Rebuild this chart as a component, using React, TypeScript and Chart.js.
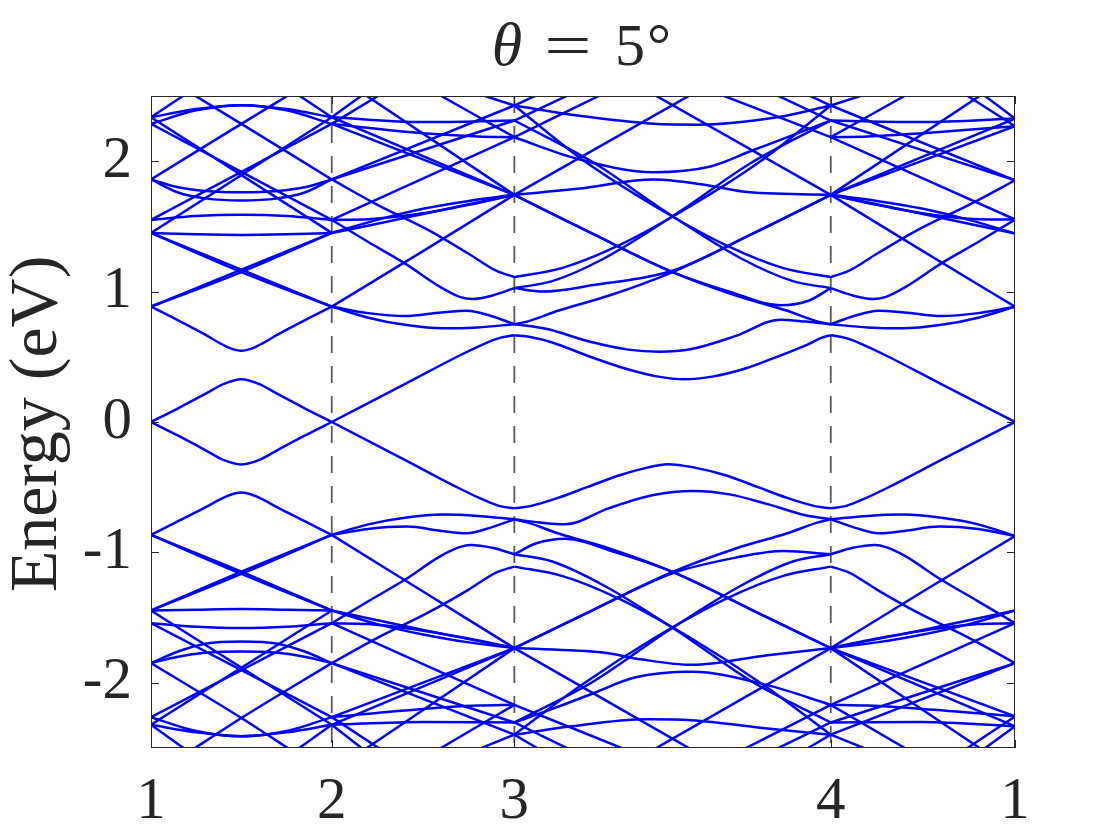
import React, { useEffect, useRef } from 'react';
import { Chart, registerables } from 'chart.js';

Chart.register(...registerables);

// Path nodes (k-distance along the path) and their labels
const NODE_POS = [0, 0.99, 1.99, 3.723, 4.732];
const NODE_LABELS = ['1', '2', '3', '4', '1'];
const Y_TICKS = [-2, -1, 0, 1, 2];

// Bands: each is a list of [t, E] where t = path parameter (integer = node), E in eV
const SEG0_UP: number[][][] = [
  [[0, 0], [0.15, 0.105], [0.3, 0.215], [0.4, 0.29], [0.5, 0.327], [0.6, 0.29], [0.7, 0.215], [0.85, 0.105], [1, 0]],
  [[0, 0.885], [0.15, 0.78], [0.3, 0.67], [0.38, 0.605], [0.44, 0.565], [0.5, 0.547], [0.56, 0.565], [0.62, 0.605], [0.7, 0.67], [0.85, 0.78], [1, 0.885]],
  [[0, 0.885], [0.5, 1.15], [1, 1.45]],
  [[0, 0.885], [0.5, 1.168], [1, 1.45]],
  [[0, 1.45], [0.5, 1.15], [1, 0.885]],
  [[0, 1.45], [0.5, 1.168], [1, 0.885]],
  [[0, 1.55], [0.25, 1.58], [0.5, 1.589], [0.75, 1.58], [1, 1.55]],
  [[0, 1.45], [0.25, 1.44], [0.5, 1.435], [0.75, 1.44], [1, 1.45]],
  [[0, 1.86], [0.15, 1.8], [0.3, 1.772], [0.5, 1.762], [0.7, 1.772], [0.85, 1.8], [1, 1.86]],
  [[0, 1.86], [0.15, 1.76], [0.3, 1.715], [0.5, 1.699], [0.7, 1.715], [0.85, 1.76], [1, 1.86]],
  [[0, 1.55], [1, 2.286]],
  [[0, 2.286], [1, 1.55]],
  [[0, 2.337], [1, 1.45]],
  [[0, 1.45], [1, 2.337]],
  [[0, 1.86], [0.5, 2.286], [0.8, 2.54]],
  [[0.2, 2.54], [0.5, 2.286], [1, 1.86]],
  [[0, 2.286], [0.25, 2.39], [0.5, 2.43], [0.75, 2.4], [1, 2.337]],
  [[0, 2.337], [0.25, 2.4], [0.5, 2.43], [0.75, 2.39], [1, 2.286]],
  [[0, 2.337], [0.22, 2.54]],
  [[0.78, 2.54], [1, 2.337]],
];

const SEG0_LO: number[][][] = [
  [[0, 0], [0.15, -0.105], [0.3, -0.215], [0.4, -0.29], [0.5, -0.325], [0.6, -0.29], [0.7, -0.215], [0.85, -0.105], [1, 0]],
  [[0, -0.866], [0.15, -0.76], [0.3, -0.655], [0.38, -0.595], [0.44, -0.558], [0.5, -0.54], [0.56, -0.558], [0.62, -0.595], [0.7, -0.655], [0.85, -0.76], [1, -0.866]],
  [[0, -0.866], [0.5, -1.147], [1, -1.446]],
  [[0, -0.866], [0.5, -1.165], [1, -1.446]],
  [[0, -1.446], [0.5, -1.147], [1, -0.866]],
  [[0, -1.446], [0.5, -1.165], [1, -0.866]],
  [[0, -1.543], [0.25, -1.57], [0.5, -1.58], [0.75, -1.57], [1, -1.543]],
  [[0, -1.446], [0.25, -1.44], [0.5, -1.435], [0.75, -1.44], [1, -1.446]],
  [[0, -1.849], [0.15, -1.76], [0.3, -1.7], [0.5, -1.683], [0.7, -1.7], [0.85, -1.76], [1, -1.849]],
  [[0, -1.849], [0.15, -1.8], [0.3, -1.77], [0.5, -1.76], [0.7, -1.77], [0.85, -1.8], [1, -1.849]],
  [[0, -1.543], [1, -2.263]],
  [[0, -2.263], [1, -1.543]],
  [[0, -2.322], [1, -1.446]],
  [[0, -1.446], [1, -2.322]],
  [[0, -1.849], [0.5, -2.27], [0.8, -2.54]],
  [[0.2, -2.54], [0.5, -2.27], [1, -1.849]],
  [[0, -2.263], [0.25, -2.37], [0.5, -2.41], [0.75, -2.38], [1, -2.322]],
  [[0, -2.322], [0.25, -2.38], [0.5, -2.41], [0.75, -2.37], [1, -2.263]],
  [[0, -2.322], [0.22, -2.54]],
  [[0.78, -2.54], [1, -2.322]],
];

const SEG1_UP: number[][][] = [
  [[1, 0], [1.4, 0.29], [1.7, 0.51], [1.82, 0.59], [1.92, 0.645], [2, 0.665]],
  [[1, 0.885], [1.5, 1.31], [2, 1.742]],
  [[1, 1.45], [1.25, 1.52], [1.5, 1.595], [1.75, 1.67], [2, 1.742]],
  [[1, 1.45], [1.25, 1.55], [1.5, 1.635], [1.75, 1.695], [2, 1.742]],
  [[1, 1.55], [1.2, 1.555], [1.5, 1.6], [1.75, 1.665], [2, 1.742]],
  [[1, 1.55], [2, 2.184]],
  [[1, 1.86], [2, 2.312]],
  [[1, 1.86], [2, 2.427]],
  [[1, 2.286], [2, 1.742]],
  [[1, 2.337], [2, 1.742]],
  [[1.15, 2.54], [2, 1.742]],
  [[1, 1.86], [1.25, 1.665], [1.53, 1.471], [1.75, 1.29], [1.9, 1.16], [2, 1.111]],
  [[1, 1.55], [1.2, 1.38], [1.4, 1.216], [1.6, 1.03], [1.7, 0.96], [1.77, 0.943], [1.88, 0.97], [2, 1.027]],
  [[1, 0.885], [1.2, 0.835], [1.4, 0.812], [1.6, 0.84], [1.74, 0.853], [1.87, 0.815], [2, 0.75]],
  [[1, 0.885], [1.2, 0.8], [1.4, 0.745], [1.61, 0.718], [1.8, 0.725], [2, 0.75]],
  [[1, 2.337], [1.5, 2.3], [2, 2.312]],
  [[1, 2.286], [1.5, 2.215], [1.8, 2.19], [2, 2.184]],
  [[1, 2.337], [1.2, 2.54]],
  [[1, 2.286], [1.3, 2.54]],
  [[1.55, 2.54], [2, 2.184]],
  [[1.75, 2.54], [2, 2.427]],
];

const SEG1_LO: number[][][] = [
  [[1, 0], [1.4, -0.29], [1.7, -0.51], [1.82, -0.59], [1.92, -0.645], [2, -0.662]],
  [[1, -0.866], [1.5, -1.3], [2, -1.734]],
  [[1, -1.446], [1.25, -1.52], [1.5, -1.595], [1.75, -1.665], [2, -1.734]],
  [[1, -1.446], [1.25, -1.55], [1.5, -1.63], [1.75, -1.69], [2, -1.734]],
  [[1, -1.543], [1.2, -1.55], [1.5, -1.6], [1.75, -1.66], [2, -1.734]],
  [[1, -1.543], [2, -2.169]],
  [[1, -1.849], [2, -2.304]],
  [[1, -1.849], [2, -2.398]],
  [[1, -2.263], [2, -1.734]],
  [[1, -2.322], [2, -1.734]],
  [[1.15, -2.54], [2, -1.734]],
  [[1, -1.849], [1.25, -1.655], [1.53, -1.46], [1.75, -1.285], [1.9, -1.155], [2, -1.109]],
  [[1, -1.543], [1.2, -1.375], [1.4, -1.21], [1.6, -1.025], [1.7, -0.96], [1.76, -0.943], [1.88, -0.965], [2, -1.014]],
  [[1, -0.866], [1.2, -0.82], [1.41, -0.802], [1.6, -0.835], [1.74, -0.853], [1.87, -0.81], [2, -0.746]],
  [[1, -0.866], [1.2, -0.785], [1.4, -0.735], [1.61, -0.71], [1.8, -0.72], [2, -0.746]],
  [[1, -2.322], [1.5, -2.3], [2, -2.304]],
  [[1, -2.263], [1.5, -2.2], [1.8, -2.175], [2, -2.169]],
  [[1, -2.322], [1.2, -2.54]],
  [[1, -2.263], [1.3, -2.54]],
  [[1.55, -2.54], [2, -2.169]],
  [[1.75, -2.54], [2, -2.398]],
];

const SEG2_UP: number[][][] = [
  [[2, 0.665], [2.05, 0.652], [2.12, 0.61], [2.24, 0.5], [2.35, 0.41], [2.45, 0.35], [2.537, 0.327], [2.63, 0.35], [2.73, 0.41], [2.83, 0.5], [2.93, 0.598], [2.97, 0.645], [3, 0.665]],
  [[2, 0.75], [2.1, 0.715], [2.24, 0.615], [2.36, 0.555], [2.457, 0.539], [2.56, 0.56], [2.7, 0.66], [2.84, 0.785], [2.92, 0.77], [3, 0.75]],
  [[2, 1.742], [2.2, 1.788], [2.44, 1.86], [2.6, 1.82], [2.72, 1.768], [3, 1.742]],
  [[2, 2.184], [2.2, 2.018], [2.44, 1.916], [2.62, 1.96], [2.75, 2.08], [2.88, 2.2], [3, 2.312]],
  [[2, 2.427], [2.2, 2.35], [2.44, 2.287], [2.58, 2.28], [2.83, 2.337], [3, 2.427]],
  [[2, 1.742], [2.58, 2.54]],
  [[2.42, 2.54], [3, 1.742]],
  [[2, 1.111], [2.15, 1.18], [2.33, 1.354], [2.56, 1.66], [2.79, 2.02], [3, 2.427]],
  [[2, 2.427], [2.21, 2.02], [2.44, 1.66], [2.67, 1.354], [2.85, 1.18], [3, 1.111]],
  [[2, 1.027], [2.12, 1.08], [2.28, 1.25], [2.52, 1.61], [2.75, 1.99], [3, 2.312]],
  [[2, 2.312], [2.25, 1.99], [2.48, 1.61], [2.72, 1.25], [2.88, 1.08], [3, 1.027]],
  [[2, 1.742], [2.25, 1.44], [2.5, 1.15], [2.7, 0.97], [2.86, 0.855], [2.96, 0.77], [3, 0.75]],
  [[2, 1.742], [2.25, 1.44], [2.5, 1.15], [2.68, 1.0], [2.84, 0.895], [2.93, 0.93], [3, 1.027]],
  [[2, 0.75], [2.04, 0.77], [2.14, 0.855], [2.3, 0.97], [2.5, 1.15], [2.75, 1.44], [3, 1.742]],
  [[2, 1.027], [2.09, 1.0], [2.25, 1.05], [2.5, 1.16], [2.75, 1.44], [3, 1.742]],
  [[2, 2.184], [2.3, 2.54]],
  [[2.62, 2.54], [3, 2.184]],
  [[2, 2.312], [2.2, 2.54]],
  [[2.8, 2.54], [3, 2.312]],
  [[2, 2.427], [2.1, 2.54]],
  [[2.9, 2.54], [3, 2.427]],
];

const SEG2_LO: number[][][] = [
  [[2, -0.662], [2.05, -0.645], [2.14, -0.58], [2.23, -0.5], [2.33, -0.41], [2.42, -0.35], [2.484, -0.324], [2.57, -0.35], [2.67, -0.41], [2.77, -0.5], [2.86, -0.58], [2.95, -0.645], [3, -0.662]],
  [[2, -0.746], [2.08, -0.77], [2.16, -0.785], [2.3, -0.66], [2.44, -0.56], [2.564, -0.529], [2.68, -0.555], [2.8, -0.63], [2.92, -0.715], [3, -0.746]],
  [[2, -1.734], [2.28, -1.768], [2.4, -1.82], [2.56, -1.862], [2.8, -1.788], [3, -1.734]],
  [[2, -2.304], [2.12, -2.2], [2.25, -2.08], [2.38, -1.96], [2.56, -1.916], [2.8, -2.018], [3, -2.169]],
  [[2, -2.398], [2.17, -2.337], [2.42, -2.28], [2.56, -2.287], [2.8, -2.35], [3, -2.398]],
  [[2.42, -2.54], [3, -1.734]],
  [[2, -1.734], [2.58, -2.54]],
  [[2, -1.109], [2.15, -1.18], [2.33, -1.354], [2.56, -1.66], [2.79, -2.02], [3, -2.398]],
  [[2, -2.398], [2.21, -2.02], [2.44, -1.66], [2.67, -1.354], [2.85, -1.18], [3, -1.109]],
  [[2, -1.014], [2.12, -1.07], [2.28, -1.25], [2.52, -1.61], [2.75, -1.99], [3, -2.304]],
  [[2, -2.304], [2.25, -1.99], [2.48, -1.61], [2.72, -1.25], [2.88, -1.07], [3, -1.014]],
  [[2, -1.734], [2.25, -1.44], [2.5, -1.15], [2.7, -0.97], [2.86, -0.855], [2.96, -0.77], [3, -0.746]],
  [[2, -1.734], [2.25, -1.44], [2.5, -1.16], [2.7, -1.04], [2.85, -0.99], [3, -1.014]],
  [[2, -0.746], [2.04, -0.77], [2.14, -0.855], [2.3, -0.97], [2.5, -1.15], [2.75, -1.44], [3, -1.734]],
  [[2, -1.014], [2.07, -0.93], [2.16, -0.895], [2.32, -1.0], [2.5, -1.15], [2.75, -1.44], [3, -1.734]],
  [[2.7, -2.54], [3, -2.169]],
  [[2, -2.169], [2.38, -2.54]],
  [[2.8, -2.54], [3, -2.304]],
  [[2, -2.304], [2.2, -2.54]],
  [[2, -2.398], [2.1, -2.54]],
  [[2.9, -2.54], [3, -2.398]],
];

const SEG3_UP: number[][][] = [
  [[3, 0.665], [3.08, 0.645], [3.18, 0.59], [3.3, 0.51], [3.6, 0.29], [4, 0]],
  [[3, 1.742], [3.5, 1.31], [4, 0.884]],
  [[3, 1.742], [3.25, 1.67], [3.5, 1.595], [3.75, 1.52], [4, 1.446]],
  [[3, 1.742], [3.25, 1.695], [3.5, 1.635], [3.75, 1.55], [4, 1.446]],
  [[3, 1.742], [3.25, 1.665], [3.5, 1.6], [3.8, 1.555], [4, 1.553]],
  [[3, 2.184], [4, 1.553]],
  [[3, 2.312], [4, 1.854]],
  [[3, 2.427], [4, 1.854]],
  [[3, 1.742], [4, 2.268]],
  [[3, 1.742], [4, 2.327]],
  [[3, 1.742], [3.85, 2.54]],
  [[3, 1.111], [3.1, 1.16], [3.25, 1.29], [3.47, 1.471], [3.75, 1.665], [4, 1.854]],
  [[3, 1.027], [3.12, 0.97], [3.23, 0.943], [3.3, 0.96], [3.4, 1.03], [3.6, 1.216], [3.8, 1.38], [4, 1.553]],
  [[3, 0.75], [3.13, 0.815], [3.26, 0.853], [3.4, 0.84], [3.6, 0.812], [3.8, 0.835], [4, 0.884]],
  [[3, 0.75], [3.2, 0.725], [3.39, 0.718], [3.6, 0.745], [3.8, 0.8], [4, 0.884]],
  [[3, 2.312], [3.5, 2.3], [4, 2.327]],
  [[3, 2.184], [3.2, 2.19], [3.5, 2.215], [4, 2.268]],
  [[3.8, 2.54], [4, 2.327]],
  [[3.7, 2.54], [4, 2.268]],
  [[3, 2.184], [3.45, 2.54]],
  [[3, 2.427], [3.25, 2.54]],
];

const SEG3_LO: number[][][] = [
  [[3, -0.662], [3.08, -0.645], [3.18, -0.59], [3.3, -0.51], [3.6, -0.29], [4, 0]],
  [[3, -1.734], [3.5, -1.3], [4, -0.874]],
  [[3, -1.734], [3.25, -1.665], [3.5, -1.595], [3.75, -1.52], [4, -1.446]],
  [[3, -1.734], [3.25, -1.69], [3.5, -1.63], [3.75, -1.55], [4, -1.446]],
  [[3, -1.734], [3.25, -1.66], [3.5, -1.6], [3.8, -1.55], [4, -1.543]],
  [[3, -2.169], [4, -1.543]],
  [[3, -2.304], [4, -1.849]],
  [[3, -2.398], [4, -1.849]],
  [[3, -1.734], [4, -2.258]],
  [[3, -1.734], [4, -2.334]],
  [[3, -1.734], [3.85, -2.54]],
  [[3, -1.109], [3.1, -1.155], [3.25, -1.285], [3.47, -1.46], [3.75, -1.655], [4, -1.849]],
  [[3, -1.014], [3.12, -0.965], [3.24, -0.943], [3.3, -0.96], [3.4, -1.025], [3.6, -1.21], [3.8, -1.375], [4, -1.543]],
  [[3, -0.746], [3.13, -0.81], [3.26, -0.853], [3.4, -0.835], [3.59, -0.802], [3.8, -0.82], [4, -0.874]],
  [[3, -0.746], [3.2, -0.72], [3.39, -0.71], [3.6, -0.735], [3.8, -0.785], [4, -0.874]],
  [[3, -2.304], [3.5, -2.3], [4, -2.334]],
  [[3, -2.169], [3.2, -2.175], [3.5, -2.2], [4, -2.258]],
  [[3.8, -2.54], [4, -2.334]],
  [[3.7, -2.54], [4, -2.258]],
  [[3, -2.169], [3.45, -2.54]],
  [[3, -2.398], [3.25, -2.54]],
];

const ALL_BANDS = [SEG0_UP, SEG0_LO, SEG1_UP, SEG1_LO, SEG2_UP, SEG2_LO, SEG3_UP, SEG3_LO];

const TEXT_COLOR = '#262626';
const BAND_COLOR = '#0000ff';

function tToK(t: number): number {
  const i = Math.max(0, Math.min(3, Math.floor(t)));
  return NODE_POS[i] + (t - i) * (NODE_POS[i + 1] - NODE_POS[i]);
}

const decorPlugin = {
  id: 'decor',
  beforeDraw(chart: any) {
    const ctx = chart.ctx;
    ctx.save();
    ctx.fillStyle = '#ffffff';
    ctx.fillRect(0, 0, chart.width, chart.height);
    ctx.restore();
  },
  beforeDatasetsDraw(chart: any) {
    const { ctx, chartArea, scales } = chart;
    ctx.save();
    ctx.strokeStyle = 'rgba(70,70,70,0.9)';
    ctx.lineWidth = 1.8;
    ctx.setLineDash([17, 13]);
    for (let i = 1; i <= 3; i++) {
      const x = scales.x.getPixelForValue(NODE_POS[i]);
      ctx.beginPath();
      ctx.moveTo(x, chartArea.top);
      ctx.lineTo(x, chartArea.bottom);
      ctx.stroke();
    }
    ctx.restore();
  },
  afterDraw(chart: any) {
    const { ctx, chartArea, scales } = chart;
    const { left, right, top, bottom } = chartArea;
    ctx.save();
    ctx.strokeStyle = TEXT_COLOR;
    ctx.lineWidth = 1;
    ctx.setLineDash([]);
    ctx.strokeRect(left + 0.5, top + 0.5, right - left - 1, bottom - top - 1);
    ctx.beginPath();
    for (const v of Y_TICKS) {
      const y = Math.round(scales.y.getPixelForValue(v)) + 0.5;
      ctx.moveTo(left, y);
      ctx.lineTo(left + 8, y);
      ctx.moveTo(right, y);
      ctx.lineTo(right - 8, y);
    }
    for (const k of NODE_POS) {
      const x = Math.round(scales.x.getPixelForValue(k)) + 0.5;
      ctx.moveTo(x, bottom);
      ctx.lineTo(x, bottom - 8);
      ctx.moveTo(x, top);
      ctx.lineTo(x, top + 8);
    }
    ctx.stroke();

    // Title
    ctx.fillStyle = TEXT_COLOR;
    ctx.textBaseline = 'alphabetic';
    ctx.textAlign = 'center';
    const cx = (left + right) / 2;
    ctx.font = 'italic 62px "Liberation Serif"';
    ctx.fillText('θ', cx - 76, 65);
    ctx.font = '60px "Liberation Serif"';
    ctx.save();
    ctx.translate(cx - 15, 65);
    ctx.scale(1.4, 1);
    ctx.fillText('=', 0, 0);
    ctx.restore();
    ctx.fillText('5', cx + 47, 65);
    ctx.fillText('°', cx + 76, 65);

    // Y label
    ctx.save();
    ctx.translate(56, (top + bottom) / 2 + 2);
    ctx.rotate(-Math.PI / 2);
    ctx.font = '68px "Liberation Serif"';
    ctx.textAlign = 'center';
    ctx.textBaseline = 'alphabetic';
    ctx.fillText('Energy (eV)', 0, 0);
    ctx.restore();
    ctx.restore();
  },
};

export default function App() {
  const canvasRef = useRef<HTMLCanvasElement | null>(null);

  useEffect(() => {
    document.body.style.margin = '0';
    const canvas = canvasRef.current;
    if (!canvas) return;
    const datasets: any[] = [];
    ALL_BANDS.forEach((group) => {
      group.forEach((band) => {
        datasets.push({
          data: band.map(([t, e]) => ({ x: tToK(t), y: e })),
          borderColor: BAND_COLOR,
          borderWidth: 2.5,
          pointRadius: 0,
          fill: false,
          cubicInterpolationMode: 'monotone',
          clip: 0,
        });
      });
    });
    const tickFont = { family: 'Liberation Serif', size: 59 };
    const chart = new Chart(canvas, {
      type: 'line',
      data: { datasets },
      options: {
        animation: false,
        responsive: false,
        devicePixelRatio: 1,
        events: [],
        layout: { padding: { left: 0, right: 105, top: 96, bottom: 0 } },
        plugins: {
          legend: { display: false },
          tooltip: { enabled: false },
          title: { display: false },
        },
        scales: {
          x: {
            type: 'linear',
            min: 0,
            max: NODE_POS[4],
            afterBuildTicks: (s: any) => {
              s.ticks = NODE_POS.map((v) => ({ value: v }));
            },
            afterFit: (s: any) => {
              s.height = 92;
            },
            ticks: {
              autoSkip: false,
              maxRotation: 0,
              font: tickFont,
              color: TEXT_COLOR,
              padding: 19,
              callback: (_v: any, i: number) => NODE_LABELS[i],
            },
            grid: { display: false, drawTicks: false },
            border: { display: false },
          },
          y: {
            type: 'linear',
            min: -2.5,
            max: 2.5,
            afterBuildTicks: (s: any) => {
              s.ticks = Y_TICKS.map((v) => ({ value: v }));
            },
            afterFit: (s: any) => {
              s.width = 151;
            },
            ticks: {
              font: tickFont,
              color: TEXT_COLOR,
              padding: 19,
              callback: (v: any) => String(v),
            },
            grid: { display: false, drawTicks: false },
            border: { display: false },
          },
        },
      } as any,
      plugins: [decorPlugin],
    });
    return () => {
      chart.destroy();
    };
  }, []);

  return (
    <div style={{ width: 1120, height: 840 }}>
      <canvas ref={canvasRef} width={1120} height={840} style={{ display: 'block' }} />
    </div>
  );
}
